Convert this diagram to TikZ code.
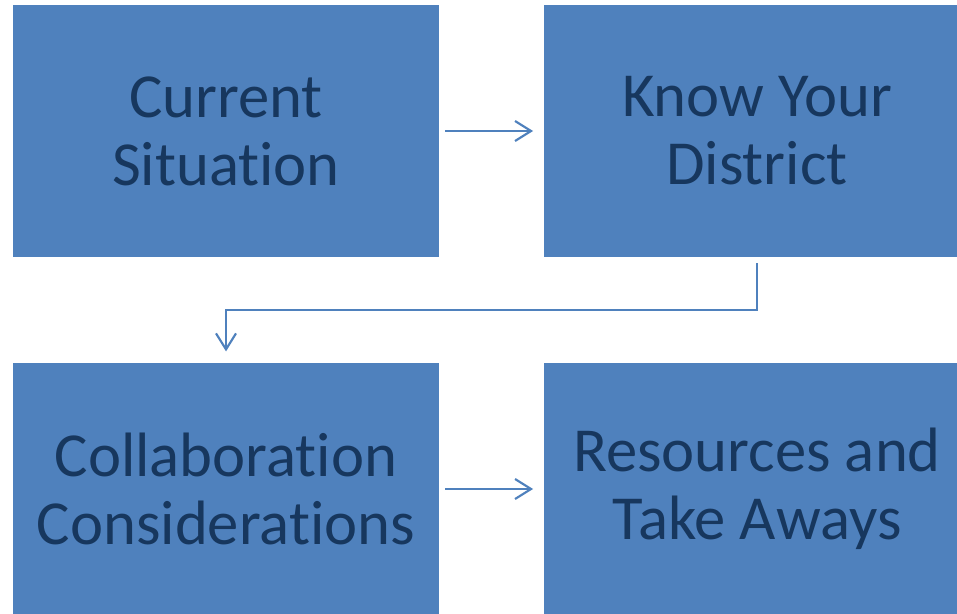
\documentclass[tikz,border=0pt]{standalone}
\usepackage{fontspec}
\setmainfont{Carlito}[Ligatures=NoCommon]
\usepackage{tikz}
\usetikzlibrary{arrows.meta}
\definecolor{boxblue}{HTML}{4F81BD}
\definecolor{navy}{HTML}{17375E}
\tikzset{
  stage/.style={fill=boxblue, draw=none, minimum width=319.5pt, minimum height=189pt,
    inner sep=0pt, align=center, text=navy, font=\fontsize{47}{51}\selectfont},
  link/.style={draw=boxblue, line width=1.6pt, line join=miter,
    -{Straight Barb[length=12pt,width=15pt]}}
}

\begin{document}
\begin{tikzpicture}[x=0.75pt, y=-0.75pt]
  \fill[white] (0,0) rectangle (957,614);
  \useasboundingbox (0,0) rectangle (957,614);
  \clip (0,0) rectangle (957,614);

  % the four stages
  \node[stage] (cs)  at (226,131) {Current\\Situation};
  \node[stage] (kyd) at (757,131) {Know Your\\District};
  \node[stage] (cc)  at (226,489) {Collaboration\\Considerations};
  \node[stage] (rta) at (757,489) {Resources and\\Take Aways};

  % flow between them
  \draw[link, shorten <=4.5pt, shorten >=8pt] (cs) -- (kyd);
  \draw[link, shorten <=4.5pt, shorten >=8.5pt] (kyd.south) -- ++(0,53) -| (cc.north);
  \draw[link, shorten <=4.5pt, shorten >=8pt] (cc) -- (rta);
\end{tikzpicture}
\end{document}
